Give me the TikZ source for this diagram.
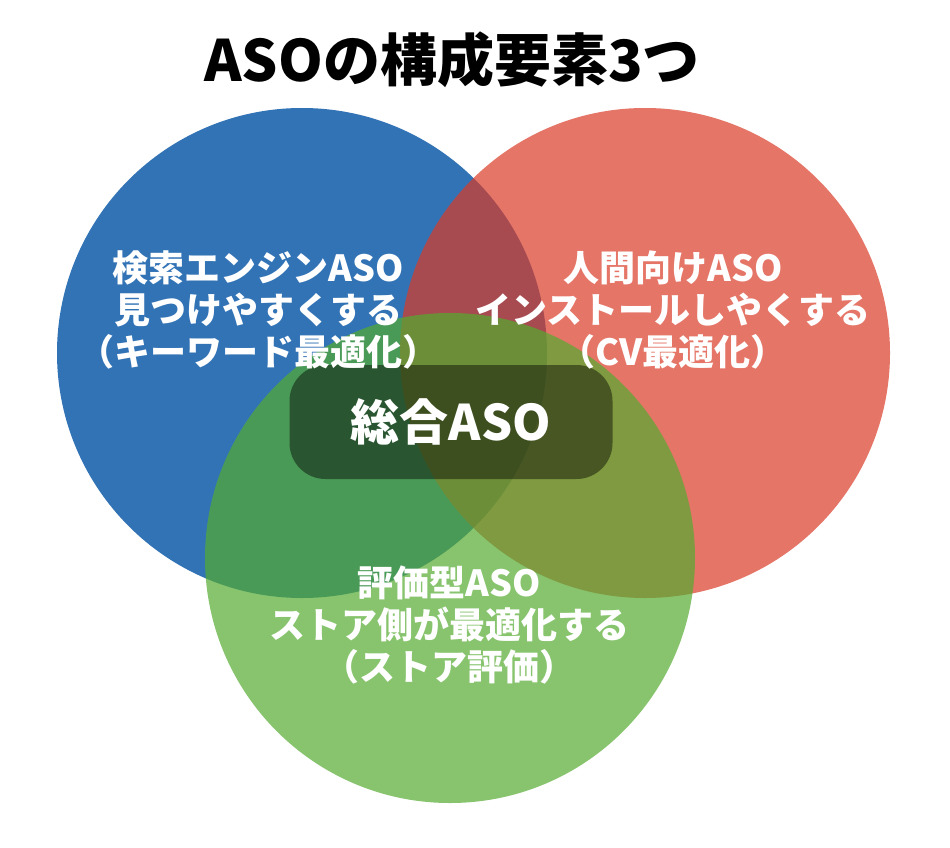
\documentclass[tikz,border=0pt]{standalone}
\usepackage{fontspec}
\newfontfamily\jp{Noto Sans CJK JP}[UprightFont=* Black,BoldFont=* Black]
\definecolor{cblue}{RGB}{50,115,182}
\definecolor{cred}{RGB}{218,59,39}
\definecolor{cgreen}{RGB}{85,171,48}
\begin{document}
\begin{tikzpicture}[x=1pt,y=-1pt,
  lbl/.style={font=\jp\fontsize{36}{42}\selectfont,text=white,align=center,inner sep=0pt},
  circ/.style={circle,minimum size=490pt,inner sep=0pt,draw=none}]
\useasboundingbox (0,0) rectangle (950,848);
\fill[white] (0,0) rectangle (950,848);
\node[circ,fill=cblue] (blue) at (302,353) {};
\node[circ,fill=cred,fill opacity=0.7] (red) at (645,353) {};
\node[circ,fill=cgreen,fill opacity=0.7] (green) at (450,558) {};
\node[fill=black,fill opacity=0.44,rounded corners=36pt,minimum width=323pt,minimum height=114pt,inner sep=0pt] (core) at (451,422) {};
\node[font=\jp\fontsize{57}{60}\selectfont,text=black,inner sep=0pt] (title) at (452,60) {ASOの構成要素3つ};
\node[lbl] (tb) at (258,310) {検索エンジンASO\\見つけやすくする\\（キーワード最適化）};
\node[lbl] (tr) at (673,310) {人間向けASO\\インストールしやくする\\（CV最適化）};
\node[lbl] (tg) at (449,625) {評価型ASO\\ストア側が最適化する\\（ストア評価）};
\node[font=\jp\fontsize{49}{50}\selectfont,text=white,inner sep=0pt] (tc) at (core) {総合ASO};
\end{tikzpicture}
\end{document}
